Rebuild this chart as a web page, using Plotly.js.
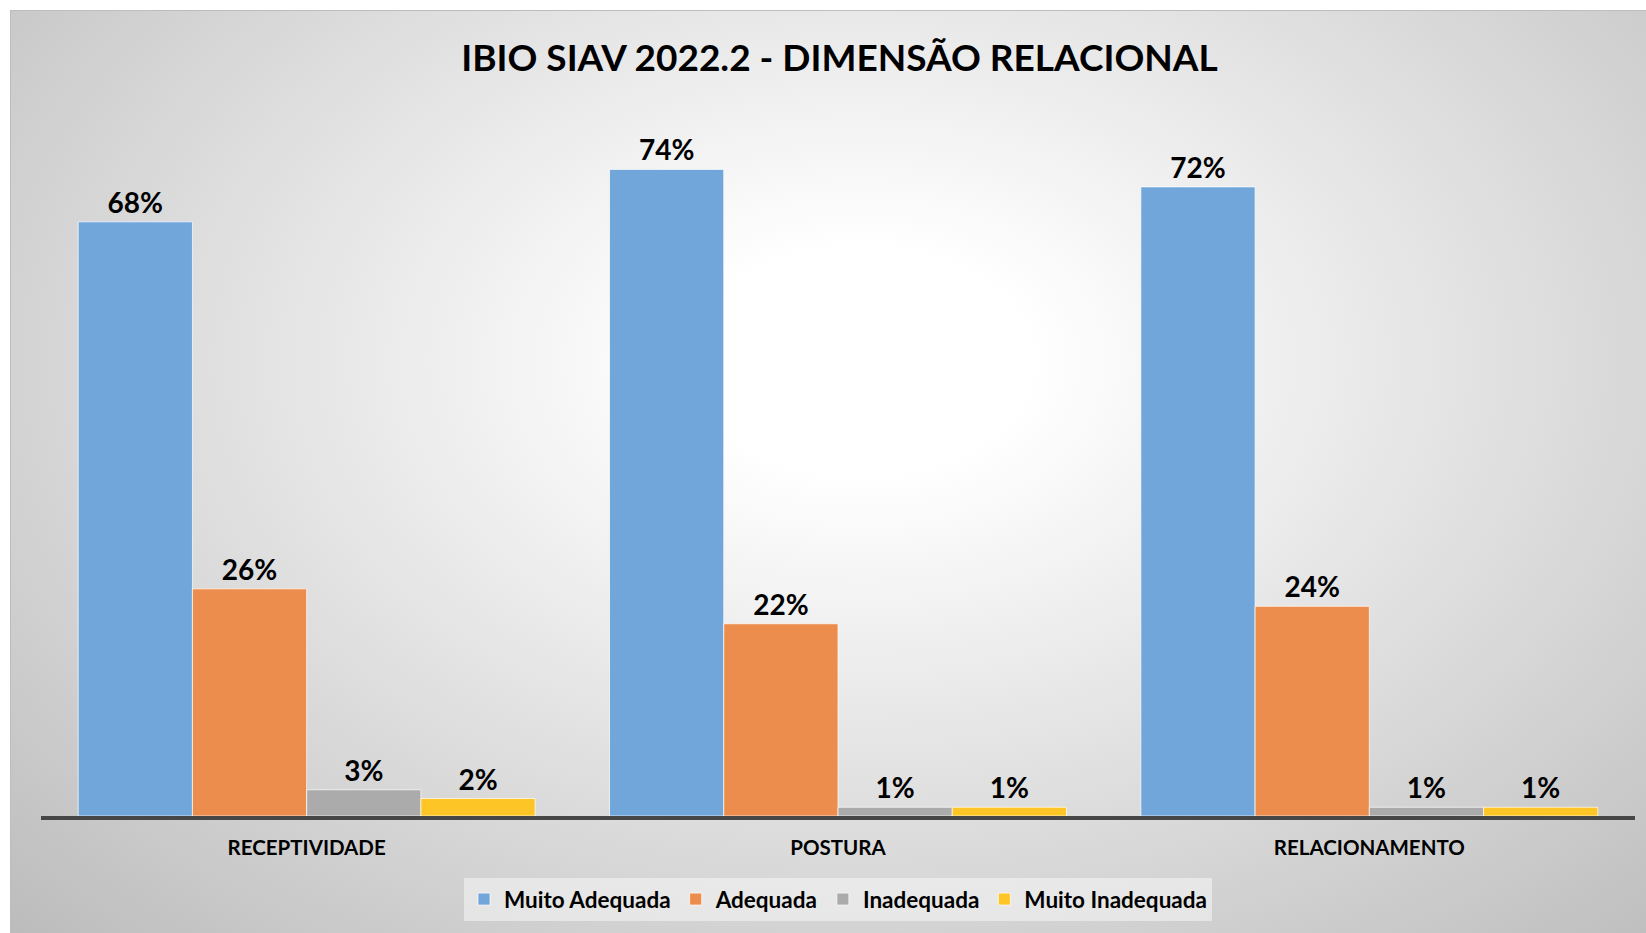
<!DOCTYPE html>
<html>
<head>
<meta charset="utf-8">
<script src="https://cdn.plot.ly/plotly-3.0.1.min.js"></script>
<style>
  html, body { margin: 0; padding: 0; background: #ffffff; }
  #bg {
    position: absolute; left: 10px; top: 10px; width: 1635px; height: 922px;
    border-top: 1px solid #bdbdbd; border-left: 1px solid #bdbdbd;
    background: radial-gradient(ellipse farthest-corner at 52% 38%, #ffffff 0%, #ffffff 14%, #bcbcbc 100%);
  }
  #chart { position: absolute; left: 0; top: 0; width: 1646px; height: 933px; }
</style>
</head>
<body>
<div id="bg"></div>
<div id="chart"></div>
<script>
// categories on the x axis
const categories = ['RECEPTIVIDADE', 'POSTURA', 'RELACIONAMENTO'];

// one series per answer, values in percent
const muitoAdequada = [68, 74, 72];
const adequada = [26, 22, 24];
const inadequada = [3, 1, 1];
const muitoInadequada = [2, 1, 1];

const seriesNames = ['Muito Adequada', 'Adequada', 'Inadequada', 'Muito Inadequada'];
const seriesColors = ['#70a6da', '#ed8d4d', '#ababab', '#fec526'];

const FONT = 'Lato, "Open Sans", sans-serif';

const traces = [muitoAdequada, adequada, inadequada, muitoInadequada].map((vals, i) => ({
  type: 'bar',
  name: seriesNames[i],
  x: categories,
  y: vals,
  marker: { color: seriesColors[i], line: { color: 'rgba(255,255,255,0.7)', width: 1 } },
  texttemplate: '%{y}%',
  textposition: 'outside',
  cliponaxis: false,
  textfont: { family: FONT, size: 28, color: '#000000', weight: 'bold' },
  hoverinfo: 'skip',
}));

const layout = {
  width: 1646,
  height: 933,
  paper_bgcolor: 'rgba(0,0,0,0)',
  plot_bgcolor: 'rgba(0,0,0,0)',
  margin: { l: 41, r: 11, t: 116.5, b: 117 },
  barmode: 'group',
  bargap: 0.14,
  bargroupgap: 0,
  title: {
    text: 'IBIO SIAV 2022.2 - DIMENSÃO RELACIONAL',
    font: { family: FONT, size: 37, color: '#000000', weight: 'bold' },
    x: 0.51,
    xanchor: 'center',
    y: 1 - 58 / 933,
    yanchor: 'middle',
    yref: 'container',
  },
  xaxis: {
    showline: true,
    linecolor: '#464646',
    linewidth: 4,
    ticks: '',
    ticklabelstandoff: 10,
    showgrid: false,
    zeroline: false,
    tickfont: { family: FONT, size: 20.5, color: '#000000', weight: 'bold' },
  },
  yaxis: {
    range: [0, 80],
    visible: false,
    showgrid: false,
    zeroline: false,
  },
  showlegend: true,
  legend: {
    orientation: 'h',
    x: 0.5,
    xanchor: 'center',
    y: -0.0886,
    yanchor: 'top',
    bgcolor: 'rgba(255,255,255,0.45)',
    font: { family: FONT, size: 22.5, color: '#000000', weight: 'bold' },
    traceorder: 'normal',
  },
};

Plotly.newPlot('chart', traces, layout, { displayModeBar: false, staticPlot: true });
</script>
</body>
</html>
